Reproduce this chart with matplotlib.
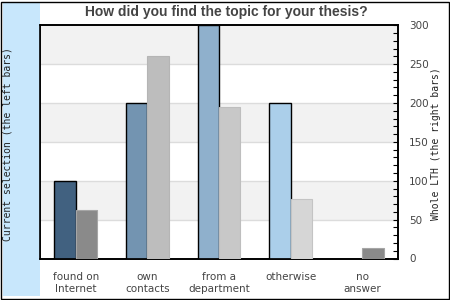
import matplotlib.pyplot as plt
import numpy as np
from matplotlib.patches import Rectangle
from matplotlib.ticker import MultipleLocator

categories = ['found on\nInternet', 'own\ncontacts', 'from a\ndepartment', 'otherwise', 'no\nanswer']
current = [1, 2, 3, 2, 0]
whole_lth = [62, 260, 195, 76, 14]

left_colors = ['#416180', '#7394b1', '#8fb0cc', '#abcfea', '#c6e0f4']
right_colors = ['#8a8a8a', '#bdbdbd', '#c8c8c8', '#d6d6d6', '#8a8a8a']
right_edges = ['#a6a6a6', '#b5b5b5', '#bebebe', '#c4c4c4', '#a6a6a6']

fig = plt.figure(figsize=(4.5, 3), dpi=100)
fig.patch.set_facecolor('white')

# light blue panel on the left and frame round the figure
fig.patches.append(Rectangle((3 / 450, 4 / 300), 37 / 450, 293 / 300,
                             transform=fig.transFigure, facecolor='#c8e7fc',
                             edgecolor='none', zorder=0))
fig.patches.append(Rectangle((1 / 450, 1.5 / 300), 447.5 / 450, 297 / 300,
                             transform=fig.transFigure, facecolor='none',
                             edgecolor='black', linewidth=1, zorder=5))

ax = fig.add_axes([40 / 450, 1 - 258.5 / 300, 358 / 450, 233.3 / 300])
ax2 = ax.twinx()

x = np.arange(len(categories))
w = 0.3

for lo in [0.5, 1.5, 2.5]:
    ax.axhspan(lo, lo + 0.5, color='#f2f2f2', zorder=0, linewidth=0)
for yv in np.arange(0.5, 3.0, 0.5):
    ax.axhline(yv, color='#dcdcdc', linewidth=1, zorder=0.5)

for i in range(len(categories)):
    if current[i] > 0:
        ax.bar(x[i] - w / 2, current[i], w, color=left_colors[i],
               edgecolor='black', linewidth=1, zorder=3)
    ax2.bar(x[i] + w / 2, whole_lth[i], w, color=right_colors[i],
            edgecolor=right_edges[i], linewidth=0.8, zorder=3)

ax.set_xlim(-0.5, len(categories) - 0.5)
ax.set_ylim(0, 3)
ax2.set_ylim(0, 300)
ax.yaxis.set_major_locator(MultipleLocator(0.5))
ax2.yaxis.set_major_locator(MultipleLocator(50))
ax2.yaxis.set_minor_locator(MultipleLocator(10))

ax.set_xticks(x)
ax.set_xticklabels(categories, fontsize=7.5, color='#444444', linespacing=1.15,
                   va='top')
ax.tick_params(axis='x', length=0, pad=10)
ax.tick_params(axis='y', length=0, pad=8, labelsize=7.5, labelcolor='#555555')
ax2.tick_params(axis='y', which='both', direction='in', length=3.5, width=0.8,
                pad=8, labelsize=7.5, labelcolor='#444444')

for a in (ax, ax2):
    for s in a.spines.values():
        s.set_linewidth(1.2)
        s.set_color('black')

ax2.set_zorder(ax.get_zorder() + 1)
ax2.patch.set_visible(False)

fig.text(226 / 450, 1 - 12 / 300, 'How did you find the topic for your thesis?',
         ha='center', va='center', fontsize=10, fontweight='bold',
         family='Liberation Sans', color='#444444')
fig.text(8 / 450, 1 - 144 / 300, 'Current selection (the left bars)',
         rotation=90, ha='center', va='center', fontsize=7,
         family='DejaVu Sans Mono', color='#222222')
fig.text(436 / 450, 1 - 144 / 300, 'Whole LTH (the right bars)',
         rotation=90, ha='center', va='center', fontsize=7,
         family='DejaVu Sans Mono', color='#222222')

fig.savefig('out.png', dpi=100)
